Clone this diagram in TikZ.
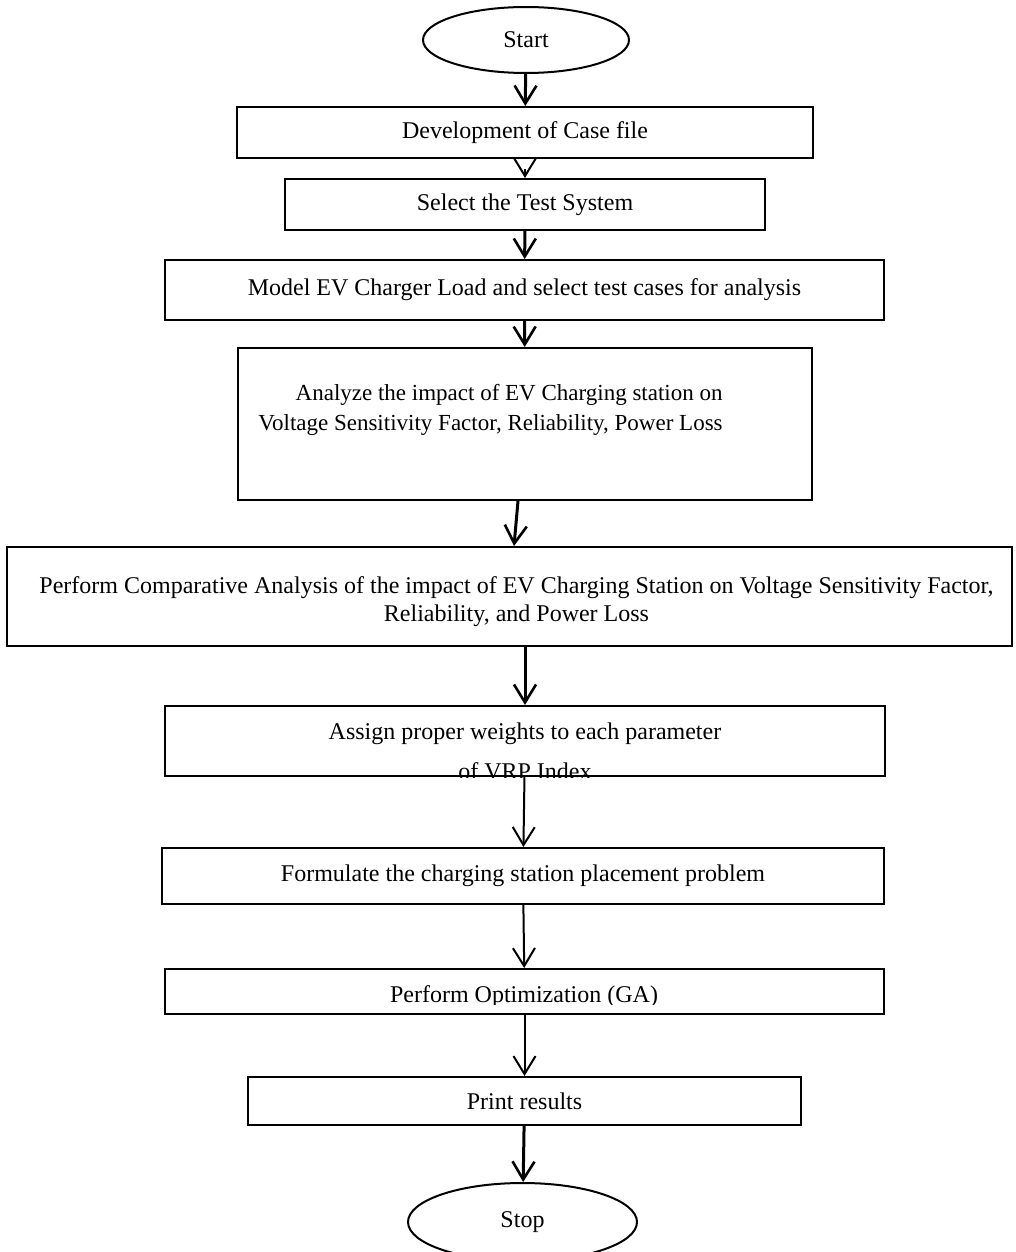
\documentclass[tikz,border=0pt]{standalone}
\usepackage{fontspec}
\setmainfont{Liberation Serif}
\usetikzlibrary{arrows.meta,shapes.geometric}

\tikzset{
  box/.style={draw, line width=1pt, inner sep=0pt, align=center},
  oval/.style={draw, ellipse, line width=1pt, inner sep=0pt},
  txt/.style={inner sep=0pt, align=center},
  flow/.style={-{Straight Barb[length=9pt,width=11pt,line width=1.3pt]}, line width=1.5pt},
  thinflow/.style={-{Straight Barb[length=9pt,width=11pt,line width=1pt]}, line width=1pt}
}

\begin{document}
\begin{tikzpicture}[x=0.5pt,y=0.5pt,yscale=-1,font=\fontsize{12pt}{14pt}\selectfont]
\useasboundingbox (0,0) rectangle (1016,1252);

% Terminals
\node[oval, minimum width=103pt, minimum height=33pt] (start) at (526,40) {Start};
\node[oval, minimum width=114.5pt, minimum height=39pt] (stop) at (522.5,1222) {Stop};

% Process boxes
\node[box, minimum width=288pt, minimum height=25.5pt] (dev) at (525,132.5) {Development of Case file};
\node[box, minimum width=240pt, minimum height=25.5pt] (sel) at (525,204.5) {Select the Test System};
\node[box, minimum width=359.5pt, minimum height=30pt] (model) at (524.5,290) {Model EV Charger Load and select test cases for analysis};
\node[box, minimum width=287pt, minimum height=76pt] (ana) at (525,424) {};
\node[box, minimum width=502.5pt, minimum height=49.5pt] (comp) at (509.5,596.5) {};
\node[box, minimum width=360pt, minimum height=35pt] (wgt) at (525,741) {};
\node[box, minimum width=361pt, minimum height=28pt] (form) at (523,876) {Formulate the charging station placement problem};
\node[box, minimum width=359.5pt, minimum height=22.5pt] (opt) at (524.5,991.5) {};
\node[box, minimum width=276.5pt, minimum height=24pt] (res) at (524.5,1101) {Print results};

% Texts placed apart from their boxes
\node[txt, align=right, anchor=north east, font=\fontsize{11.5pt}{15pt}\selectfont] (anatxt) at (723,384)
  {Analyze the impact of EV Charging station on\\Voltage Sensitivity Factor, Reliability, Power Loss};
\node[txt, anchor=north, font=\fontsize{12pt}{14pt}\selectfont] (comptxt) at (516.5,576)
  {Perform Comparative Analysis of the impact of EV Charging Station on Voltage Sensitivity Factor,\\Reliability, and Power Loss};
\begin{scope}
  \clip (wgt.north west) rectangle (wgt.south east);
  \node[txt, anchor=north, font=\fontsize{12pt}{20pt}\selectfont] (wgttxt) at (525,722)
    {Assign proper weights to each parameter\\of VRP Index};
\end{scope}
\begin{scope}
  \clip (opt.north west) rectangle (884,1004);
  \node[txt, anchor=base] (opttxt) at (524,1002) {Perform Optimization (GA)};
\end{scope}

% Connectors
\draw[flow] (start) -- (dev);
\draw[thinflow] ([yshift=5pt]dev.south) -- (sel.north);
\draw[flow] (sel) -- (model);
\draw[flow] (model) -- (ana);
\draw[flow] ([xshift=-3.5pt]ana.south) -- ([xshift=2.25pt]comp.north);
\draw[flow] ([xshift=7.75pt]comp.south) -- (wgt.north);
\draw[thinflow] (wgt) -- (form);
\draw[thinflow] (form) -- (opt);
\draw[thinflow] (opt) -- (res);
\draw[flow] (res) -- (stop);

\end{tikzpicture}
\end{document}
